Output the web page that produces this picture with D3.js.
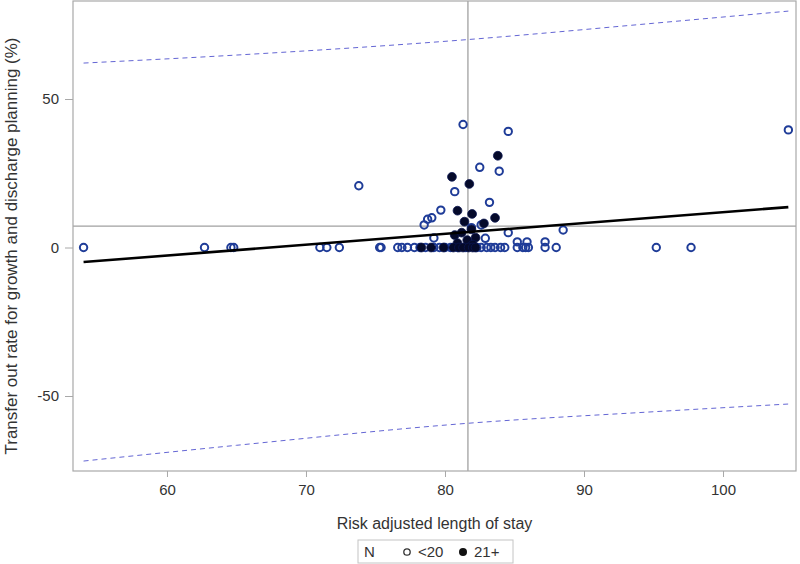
<!DOCTYPE html>
<html>
<head>
<meta charset="utf-8">
<script src="https://cdn.jsdelivr.net/npm/d3@7"></script>
<style>
  html, body { margin: 0; padding: 0; background: #fff; }
  svg { display: block; font-family: "Liberation Sans", Arial, sans-serif; }
</style>
</head>
<body>
<svg id="chart" width="800" height="564"></svg>
<script>
// ---- data ----
const xTicks = [60, 70, 80, 90, 100];
const yTicks = [-50, 0, 50];
const xDomain = [53.24, 105.25];
const yDomain = [-75.25, 83.0];

// hospitals with N < 20 (open markers): [length of stay, transfer-out rate]
const smallX = [54.0, 62.7, 64.6, 64.8, 71.0, 71.5, 72.4, 75.3, 75.4, 76.6, 76.9, 77.3, 73.8,
  77.8, 78.2, 78.6, 79.2, 79.6, 80.0, 80.4,
  79.2, 78.5, 78.75, 79.05, 79.7, 80.7, 81.3, 84.55, 82.5, 83.9, 83.2, 82.6, 82.9, 84.55, 81.9,
  80.9, 81.5, 82.3, 82.6, 83.0, 83.3, 83.6, 84.0, 84.3, 85.2, 85.6, 85.8, 86.0, 87.2, 88.0,
  85.2, 85.9, 87.2, 88.5, 95.2, 97.7, 104.7];
const smallY = [0, 0, 0, 0, 0, 0, 0, 0, 0, 0, 0, 0, 20.8,
  0, 0, 0, 0, 0, 0, 0,
  3.2, 7.6, 9.5, 10.0, 12.6, 18.8, 41.4, 39.1, 27.0, 25.7, 15.2, 7.6, 3.1, 5.0, 6.7,
  0, 0, 0, 0, 0, 0, 0, 0, 0, 0, 0, 0, 0, 0, 0,
  1.9, 1.9, 1.9, 5.9, 0, 0, 39.6];

// hospitals with N 21+ (filled markers)
const largeX = [80.5, 81.75, 80.9, 81.95, 83.6, 83.8, 81.4, 80.7, 81.2, 81.9, 82.2, 80.9, 81.6, 82.0, 82.8,
  78.3, 79.0, 79.9, 80.6, 81.0, 81.3, 81.7, 82.0, 82.2];
const largeY = [23.8, 21.4, 12.4, 11.3, 10.0, 30.9, 8.7, 4.2, 5.0, 6.1, 3.3, 1.5, 2.5, 1.0, 8.1,
  0, 0, 0, 0, 0, 0, 0, 0, 0];

// fitted regression line and prediction limits
const fitX = [54.0, 104.7];
const fitY = [-4.9, 13.6];
const bandX = [54.0, 65.0, 81.6, 95.0, 104.7];
const upperY = [62.1, 64.8, 70.0, 75.5, 79.6];
const lowerY = [-71.9, -66.6, -59.2, -55.3, -52.7];

// reference lines (averages)
const refX = 81.65;
const refY = 7.2;

const legendLabels = ["<20", "21+"];

// ---- drawing ----
const W = 800, H = 564;
const margin = {left: 73, right: 4, top: 1, bottom: 93};
const svg = d3.select("#chart");
const x = d3.scaleLinear().domain(xDomain).range([margin.left, W - margin.right]);
const y = d3.scaleLinear().domain(yDomain).range([H - margin.bottom, margin.top]);

const blue = "#1f3c98";
const frameCol = "#a8a8a8";
const textCol = "#333333";

// reference lines
svg.append("line").attr("x1", x(refX)).attr("x2", x(refX))
  .attr("y1", y.range()[1]).attr("y2", y.range()[0])
  .attr("stroke", "#a0a0a0").attr("stroke-width", 1.3);
svg.append("line").attr("x1", x.range()[0]).attr("x2", x.range()[1])
  .attr("y1", y(refY)).attr("y2", y(refY))
  .attr("stroke", "#a0a0a0").attr("stroke-width", 1.3);

// prediction bands
const line = d3.line().x(d => x(d[0])).y(d => y(d[1])).curve(d3.curveMonotoneX);
[upperY, lowerY].forEach(arr => {
  svg.append("path").datum(bandX.map((v, i) => [v, arr[i]]))
    .attr("d", line).attr("fill", "none")
    .attr("stroke", "#6466d4").attr("stroke-width", 1)
    .attr("stroke-dasharray", "5,4");
});

// points
const smallPts = smallX.map((v, i) => [v, smallY[i]]);
const largePts = largeX.map((v, i) => [v, largeY[i]]);
svg.append("g").selectAll("circle").data(smallPts).join("circle")
  .attr("cx", d => x(d[0])).attr("cy", d => y(d[1])).attr("r", 3.7)
  .attr("fill", "none").attr("stroke", blue).attr("stroke-width", 2);
svg.append("g").selectAll("circle").data(largePts).join("circle")
  .attr("cx", d => x(d[0])).attr("cy", d => y(d[1])).attr("r", 4.4)
  .attr("fill", "#050a2a").attr("stroke", "#0a1550").attr("stroke-width", 0.8);

// regression line
svg.append("path").datum(fitX.map((v, i) => [v, fitY[i]]))
  .attr("d", d3.line().x(d => x(d[0])).y(d => y(d[1])))
  .attr("stroke", "#000").attr("stroke-width", 2.6).attr("fill", "none");

// frame
svg.append("rect").attr("x", x.range()[0]).attr("y", y.range()[1])
  .attr("width", x.range()[1] - x.range()[0]).attr("height", y.range()[0] - y.range()[1])
  .attr("fill", "none").attr("stroke", frameCol).attr("stroke-width", 1.2);

// axes
const fmt = d => String(d);
const xAxis = svg.append("g").attr("transform", `translate(0,${y.range()[0]})`)
  .call(d3.axisBottom(x).tickValues(xTicks).tickSize(6).tickPadding(7).tickFormat(fmt));
const yAxis = svg.append("g").attr("transform", `translate(${x.range()[0]},0)`)
  .call(d3.axisLeft(y).tickValues(yTicks).tickSize(8).tickPadding(6).tickFormat(fmt));
[xAxis, yAxis].forEach(g => {
  g.select(".domain").remove();
  g.selectAll(".tick line").attr("stroke", frameCol);
  g.selectAll(".tick text").attr("fill", textCol).style("font-size", "15px")
    .style("font-family", "'Liberation Sans', Arial, sans-serif");
});

// axis titles
svg.append("text").attr("x", (x.range()[0] + x.range()[1]) / 2).attr("y", 529)
  .attr("text-anchor", "middle").attr("fill", textCol).style("font-size", "16px")
  .text("Risk adjusted length of stay");
svg.append("text").attr("transform", `translate(17,${(y.range()[0] + y.range()[1]) / 2 + 10}) rotate(-90)`)
  .attr("text-anchor", "middle").attr("fill", textCol).style("font-size", "17px")
  .text("Transfer out rate for growth and discharge planning (%)");

// legend
const lg = svg.append("g");
lg.append("rect").attr("x", 358).attr("y", 540).attr("width", 155).attr("height", 23)
  .attr("fill", "#fff").attr("stroke", "#c4c4c4").attr("stroke-width", 1);
lg.append("text").attr("x", 364).attr("y", 557).attr("fill", textCol).style("font-size", "15px").text("N");
lg.append("circle").attr("cx", 407).attr("cy", 552).attr("r", 3.2)
  .attr("fill", "none").attr("stroke", "#333").attr("stroke-width", 1.3);
lg.append("text").attr("x", 418).attr("y", 557).attr("fill", textCol).style("font-size", "15px").text(legendLabels[0]);
lg.append("circle").attr("cx", 463).attr("cy", 552).attr("r", 4)
  .attr("fill", "#111");
lg.append("text").attr("x", 474).attr("y", 557).attr("fill", textCol).style("font-size", "15px").text(legendLabels[1]);
</script>
</body>
</html>
